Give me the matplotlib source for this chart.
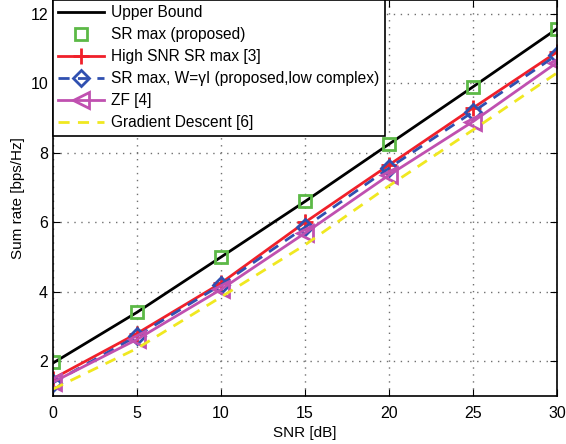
import matplotlib
matplotlib.use("Agg")
from matplotlib import pyplot as plt

plt.rcParams['font.family'] = ['Liberation Sans', 'DejaVu Sans']

snr = [0, 5, 10, 15, 20, 25, 30]
upper_bound = [1.95, 3.41, 5.0, 6.6, 8.25, 9.9, 11.57]
sr_max = [1.97, 3.41, 5.0, 6.6, 8.25, 9.9, 11.57]
high_snr = [1.5, 2.8, 4.25, 6.0, 7.65, 9.29, 10.9]
sr_low = [1.38, 2.73, 4.2, 5.86, 7.56, 9.18, 10.82]
zf = [1.4, 2.63, 4.07, 5.69, 7.36, 8.9, 10.6]
grad_desc = [1.2, 2.37, 3.85, 5.35, 7.05, 8.66, 10.3]

labels = ["Upper Bound", "SR max (proposed)", "High SNR SR max [3]",
          "SR max, W=\u03b3I (proposed,low complex)", "ZF [4]", "Gradient Descent [6]"]

fig = plt.figure(figsize=(5.66, 4.44), dpi=100)
ax = fig.add_axes([0.0936, 0.108, 0.8904, 0.892])

ax.plot(snr, upper_bound, color="black", lw=2, label=labels[0])
ax.plot(snr, sr_max, ls="none", marker="s", ms=9, mfc="none", mec="#5cb946", mew=2, label=labels[1])
ax.plot(snr, high_snr, color="#f0202a", lw=2, marker="+", ms=12, mew=2, label=labels[2])
ax.plot(snr, sr_low, color="#3050b0", lw=2, ls=(0, (4, 3)), marker="D", ms=8, mfc="none", mew=2, label=labels[3])
ax.plot(snr, zf, color="#c050b0", lw=2, marker="<", ms=12, mfc="none", mew=2, label=labels[4])
ax.plot(snr, grad_desc, color="#f0e820", lw=2, ls=(0, (4, 3)), label=labels[5])

ax.set_xlim(0, 30)
ax.set_ylim(1, 12.4)
ax.set_xticks([0, 5, 10, 15, 20, 25, 30])
ax.set_yticks([2, 4, 6, 8, 10, 12])
ax.grid(True, color="#707070", ls=(0, (1, 4)), lw=1)
ax.tick_params(direction="in", top=True, right=True, labelsize=11.5, length=5)
ax.tick_params(axis="x", pad=7)
for s in ax.spines.values():
    s.set_linewidth(1.2)
ax.set_xlabel("SNR [dB]", fontsize=11, labelpad=4)
ax.set_ylabel("Sum rate [bps/Hz]", fontsize=11)

leg = ax.legend(loc="upper left", fontsize=11.2, frameon=True, fancybox=False,
                edgecolor="black", framealpha=1, borderaxespad=0,
                handlelength=2.9, handletextpad=0.5, labelspacing=0.45, borderpad=0.35)
leg.get_frame().set_linewidth(1.2)

fig.savefig("out.png", dpi=100)
